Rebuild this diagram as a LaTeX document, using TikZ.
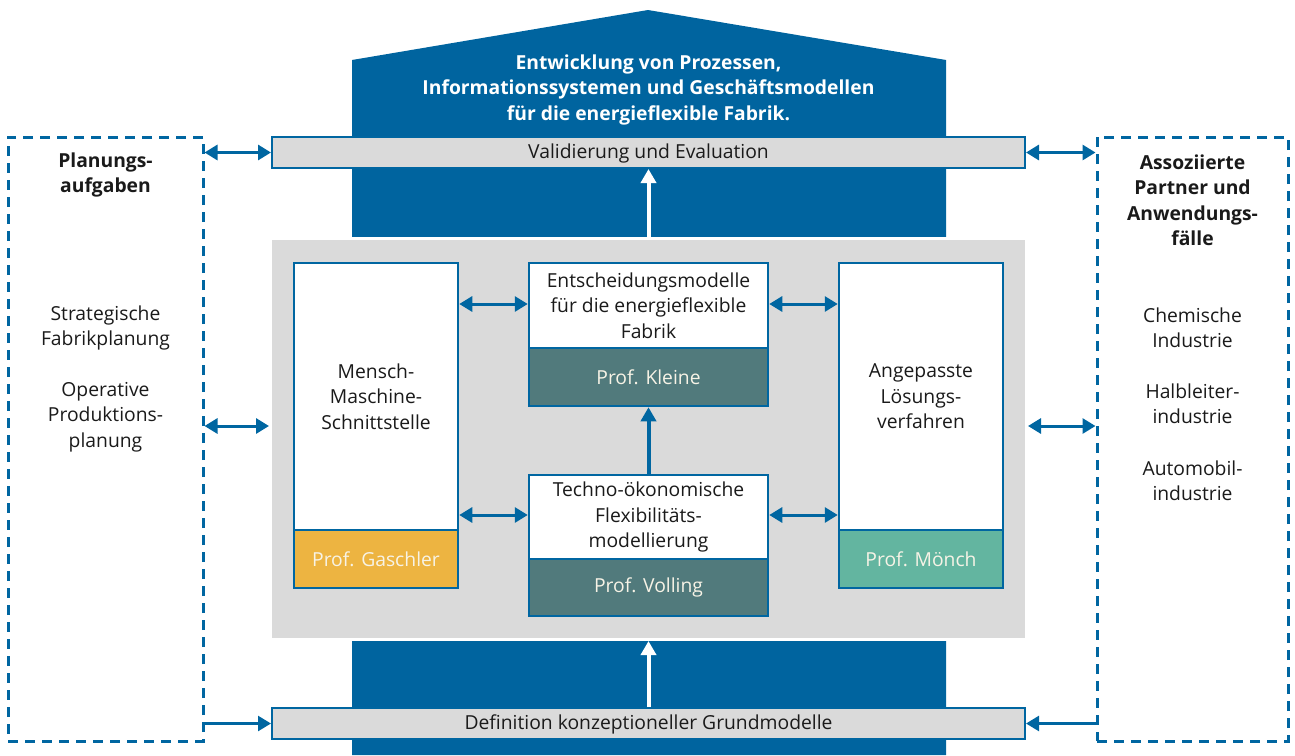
\documentclass[tikz,border=0pt]{standalone}
\usepackage{fontspec}
\setmainfont{Open Sans}
\usetikzlibrary{arrows.meta}
\definecolor{fblue}{HTML}{0066A1}
\definecolor{hblue}{HTML}{00649F}
\definecolor{pgray}{HTML}{DADADA}
\definecolor{porange}{HTML}{EDB441}
\definecolor{pdteal}{HTML}{517A7C}
\definecolor{pteal}{HTML}{63B5A0}
\definecolor{pcream}{HTML}{F7F3E6}
\definecolor{ptext}{HTML}{1A1A1A}
\tikzset{
  txt/.style={font=\fontsize{19.3}{25.5}\selectfont, align=center, text=ptext},
  btxt/.style={font=\fontsize{19.3}{25.5}\selectfont\bfseries, align=center, text=ptext},
  barbox/.style={draw=fblue, line width=2pt, fill=pgray, minimum width=753pt, minimum height=31pt, inner sep=0pt, txt, text height=16pt, text depth=4pt},
  dashbox/.style={draw=fblue, line width=3pt, dash pattern=on 10pt off 7pt, inner sep=0pt},
  whitebox/.style={draw=fblue, line width=2.5pt, fill=white, inner sep=0pt, txt},
  profbox/.style={draw=fblue, line width=2.5pt, inner sep=0pt, font=\fontsize{19.3}{25.5}\selectfont, text=pcream},
  dbl/.style={{Triangle[length=13pt,width=15pt]}-{Triangle[length=13pt,width=15pt]}, line width=3pt, draw=fblue},
  sgl/.style={-{Triangle[length=13pt,width=15pt]}, line width=2.5pt, draw=fblue},
  warrow/.style={-{Triangle[length=14pt,width=15pt]}, line width=4pt, draw=white},
  barrow/.style={-{Triangle[length=14pt,width=15pt]}, line width=4pt, draw=fblue}
}
\begin{document}
\begin{tikzpicture}[x=1pt,y=-1pt]
\useasboundingbox (0,0) rectangle (1295,755);
% house
\fill[hblue] (352,60) -- (648,10) -- (946,60) -- (946,755) -- (352,755) -- cycle;
\node[font=\fontsize{19.3}{25.5}\selectfont\bfseries, text=white, align=center] (title) at (648.5,89.5)
  {Entwicklung von Prozessen,\\Informationssystemen und Geschäftsmodellen\\für die energieflexible Fabrik.};
% central panel
\node[draw=white, line width=3pt, fill=pgray, minimum width=756pt, minimum height=401pt, inner sep=0pt] (panel) at (648.5,439) {};
% bars
\node[barbox] (val) at (648.5,152.5) {Validierung und Evaluation};
\node[barbox] (def) at (648.5,723.5) {Definition konzeptioneller Grundmodelle};
% dashed side boxes
\node[dashbox, minimum width=195pt, minimum height=604pt] (left) at (105.5,439) {};
\node[dashbox, minimum width=191pt, minimum height=604pt] (right) at (1192.5,439) {};
\node[btxt] (plan) at (105.5,175) {Planungs-\\aufgaben};
\node[txt] (strat) at (105.5,328) {Strategische\\Fabrikplanung};
\node[txt] (oper) at (105.5,417) {Operative\\Produktions-\\planung};
\node[btxt] (asso) at (1192.5,200.5) {Assoziierte\\Partner und\\Anwendungs-\\fälle};
\node[txt] (chem) at (1192.5,328) {Chemische\\Industrie};
\node[txt] (halb) at (1192.5,404) {Halbleiter-\\industrie};
\node[txt] (auto) at (1192.5,481) {Automobil-\\industrie};
% inner boxes
\node[whitebox, minimum width=164pt, minimum height=267pt] (mensch) at (376,396.5) {Mensch-\\Maschine-\\Schnittstelle};
\node[profbox, fill=porange, minimum width=164pt, minimum height=58pt] (gasch) at (376,559) {Prof. Gaschler};
\node[whitebox, minimum width=239pt, minimum height=85pt] (entsch) at (648.5,305.5) {Entscheidungsmodelle\\für die energieflexible\\Fabrik};
\node[profbox, fill=pdteal, minimum width=239pt, minimum height=58pt] (kleine) at (648.5,377) {Prof. Kleine};
\node[whitebox, minimum width=239pt, minimum height=84pt] (techno) at (648.5,517) {Techno-ökonomische\\Flexibilitäts-\\modellierung};
\node[profbox, fill=pdteal, minimum width=239pt, minimum height=57pt] (voll) at (648.5,587.5) {Prof. Volling};
\node[whitebox, minimum width=164pt, minimum height=267pt] (angep) at (921,396.5) {Angepasste\\Lösungs-\\verfahren};
\node[profbox, fill=pteal, minimum width=164pt, minimum height=58pt] (moench) at (921,559) {Prof. Mönch};
% helper coordinates
\coordinate (mid) at (0,426);
\coordinate (up) at (0,304);
\coordinate (lo) at (0,515);
% side arrows
\draw[dbl] (left.east |- val.west) -- (val.west);
\draw[dbl] (left.east |- mid) -- (panel.west |- mid);
\draw[sgl] (left.east |- def.west) -- (def.west);
\draw[dbl] (val.east) -- (right.west |- val.east);
\draw[dbl] (panel.east |- mid) -- (right.west |- mid);
\draw[sgl] (right.west |- def.east) -- (def.east);
% inner arrows
\draw[dbl] (mensch.east |- up) -- (entsch.west |- up);
\draw[dbl] (entsch.east |- up) -- (angep.west |- up);
\draw[dbl] (mensch.east |- lo) -- (techno.west |- lo);
\draw[dbl] (techno.east |- lo) -- (angep.west |- lo);
\draw[barrow] (techno.north) -- (kleine.south);
% white arrows
\draw[warrow] (panel.north) -- (val.south);
\draw[warrow] (def.north) -- (panel.south);
\end{tikzpicture}
\end{document}
